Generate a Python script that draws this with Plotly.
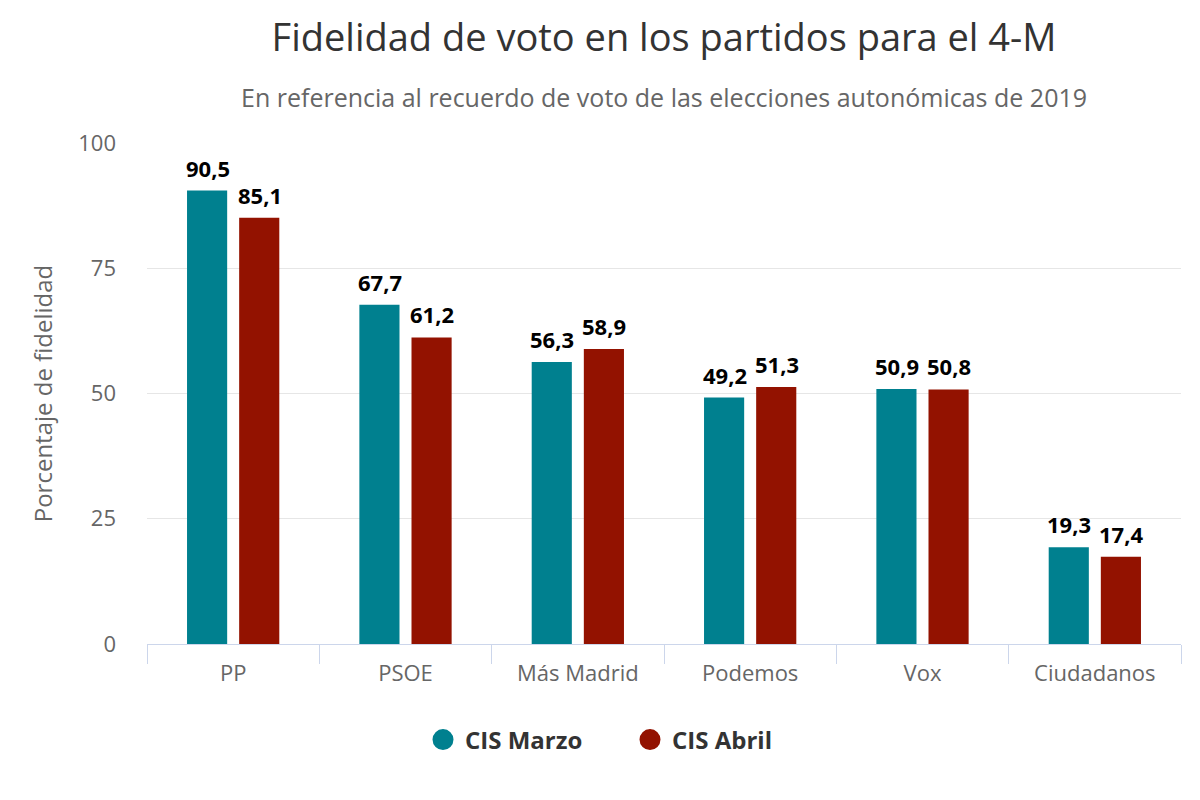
import plotly.graph_objects as go

categories = ["PP", "PSOE", "Más Madrid", "Podemos", "Vox", "Ciudadanos"]
cis_marzo = [90.5, 67.7, 56.3, 49.2, 50.9, 19.3]
cis_abril = [85.1, 61.2, 58.9, 51.3, 50.8, 17.4]
series_names = ["CIS Marzo", "CIS Abril"]
colors = ["#00808f", "#931200"]
y_ticks = [0, 25, 50, 75, 100]

FONT = "Open Sans"
OFF = 8  # page body margin offset
LABEL_XSHIFT = [-25.5, 26.5]  # grouped-bar offsets in px

fig = go.Figure()
annotations = []
for name, vals, col, dx in zip(series_names, [cis_marzo, cis_abril], colors, LABEL_XSHIFT):
    fig.add_trace(go.Bar(
        x=categories, y=vals, name=name, marker_color=col, marker_line_width=0,
        showlegend=False, hoverinfo="x+y+name",
    ))
    fig.add_trace(go.Scatter(
        x=[None], y=[None], mode="markers", name=name,
        marker=dict(symbol="circle", size=22, color=col, line=dict(color=col, width=5)),
        showlegend=True,
    ))
    for c, v in zip(categories, vals):
        annotations.append(dict(
            x=c, y=v, xref="x", yref="y", xshift=dx, yshift=6,
            text=f"{v:.1f}".replace(".", ","), showarrow=False,
            xanchor="center", yanchor="bottom",
            font=dict(family=FONT, size=22, color="#000000", weight="bold"),
        ))

H = 800
top, bot = 143 - OFF, 644 - OFF
ph = bot - top

annotations.append(dict(
    text="En referencia al recuerdo de voto de las elecciones autonómicas de 2019",
    x=0.5, xref="paper", xanchor="center",
    y=(bot - (97 - OFF)) / ph, yref="paper", yanchor="middle",
    showarrow=False, font=dict(family=FONT, size=25, color="#666666"),
))

fig.update_layout(
    width=1200, height=800,
    paper_bgcolor="white", plot_bgcolor="white",
    separators=", ",
    barmode="group", bargap=0.395, bargroupgap=0.23,
    margin=dict(l=147 - OFF, r=1200 - (1181 - OFF), t=top, b=H - bot, autoexpand=False),
    font=dict(family=FONT, color="#666666"),
    title=dict(
        text="Fidelidad de voto en los partidos para el 4-M",
        x=0.5, xref="paper", xanchor="center", y=1 - (38 - OFF) / H, yanchor="middle", yref="container",
        font=dict(family=FONT, size=38, color="#333333"),
    ),
    annotations=annotations,
    legend=dict(
        orientation="h", x=0.5 + 20 / 1200, xanchor="center", xref="container",
        y=1 - (740 - OFF) / H, yanchor="middle", yref="container",
        font=dict(family=FONT, size=24, color="#333333", weight="bold"),
        itemsizing="trace", itemwidth=34, entrywidth=158, entrywidthmode="pixels",
    ),
    xaxis=dict(
        type="category", showgrid=False, showline=True, linecolor="#ccd6eb", linewidth=1,
        ticks="outside", tickson="boundaries", ticklen=19, tickcolor="#ccd6eb",
        ticklabelstandoff=10,
        tickfont=dict(family=FONT, size=22, color="#666666"),
        fixedrange=True,
    ),
    yaxis=dict(
        range=[0, 100], tickvals=y_ticks, showgrid=True, gridcolor="#e6e6e6", gridwidth=1,
        zeroline=False, showline=False, ticks="", ticklabelstandoff=30,
        tickfont=dict(family=FONT, size=22, color="#666666"),
        title=dict(text="Porcentaje de fidelidad", font=dict(family=FONT, size=24, color="#666666"), standoff=18),
        fixedrange=True,
    ),
)

fig.write_html("out.html")
